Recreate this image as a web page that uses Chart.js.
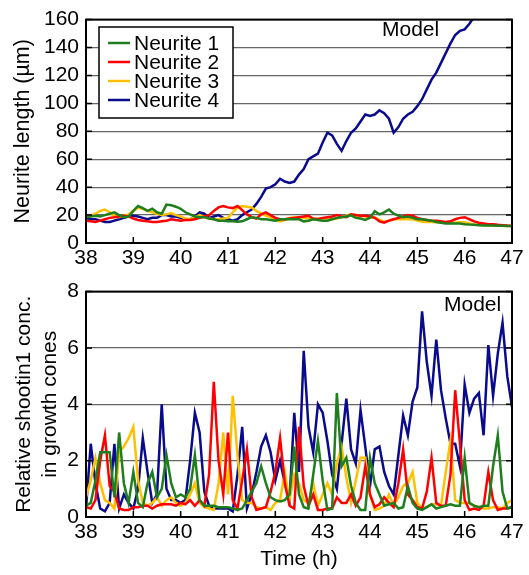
<!DOCTYPE html>
<html>
<head>
<meta charset="utf-8">
<script src="https://cdn.jsdelivr.net/npm/chart.js@4.4.1/dist/chart.umd.min.js"></script>
<style>
  html, body { margin: 0; padding: 0; background: #fff; }
  #wrap { position: relative; width: 529px; height: 575px; }
  #top { position: absolute; left: 0; top: 0; }
  #bot { position: absolute; left: 0; top: 272px; }
</style>
</head>
<body>
<div id="wrap">
  <div id="top" style="width:529px;height:272px"><canvas id="c1"></canvas></div>
  <div id="bot" style="width:529px;height:303px"><canvas id="c2"></canvas></div>
</div>
<script>
// Zeitachse: 38 h bis 47 h, alle 0.1 h
const times = Array.from({ length: 91 }, (_, i) => +(38 + i * 0.1).toFixed(1));
const hourTicks = [38, 39, 40, 41, 42, 43, 44, 45, 46, 47];
const labels = ['Neurite 1', 'Neurite 2', 'Neurite 3', 'Neurite 4'];
const colors = ['#1f7f1f', '#ff0000', '#ffc000', '#0a0a8c'];

// Neuritenlänge (µm)
const length1 = [
  18.5, 19, 19.5, 19, 20, 21, 22, 20, 18.5, 19,
  23, 26.5, 25, 23, 24.5, 22, 21, 27.5, 27, 26,
  24.5, 22, 20.5, 19, 18.5, 18.5, 17.5, 17, 16, 16,
  15.5, 15.5, 15.3, 15.5, 17, 18.5, 18, 17, 17, 16.5,
  16, 17, 17, 17, 17, 17, 15.5, 16, 17, 16.5,
  16, 16, 17, 18, 18.5, 19, 19.8, 18, 17.5, 16.5,
  18, 22.7, 20.5, 22, 24, 21, 19.6, 18.5, 19, 18,
  17, 17, 16.5, 16, 15, 14.5, 14, 14, 14, 14,
  13.5, 13.2, 13, 12.8, 12.6, 12.6, 12.5, 12.4, 12.3, 12.2,
  12.2];
const length2 = [
  16, 15.5, 15, 16, 17, 18, 18.5, 19, 19.5, 19,
  17.5, 16.5, 16, 15.5, 15, 15, 15.5, 16, 17, 16.5,
  16, 16.5, 16.5, 17, 18, 19, 20, 23, 25.5, 26.5,
  25.5, 25, 26.5, 23.5, 20.5, 18.5, 17.5, 20.5, 22, 20,
  18, 17, 17, 17.5, 18, 18.5, 19, 19.5, 17.5, 17,
  18, 18.5, 19, 20, 19, 18.5, 20.5, 20, 19.5, 19.5,
  19, 18, 15.5, 14.5, 16, 17, 18, 19, 20, 19.5,
  18, 17, 16.5, 16, 16, 15.5, 15, 15.5, 17, 18,
  18.5, 17, 15.5, 14.5, 14, 13.5, 13.5, 13, 12.8, 12.5,
  12.3];
const length3 = [
  18.5, 19.5, 21, 23, 24, 22, 19.5, 18.5, 19.5, 20.5,
  23, 25.3, 24.5, 23, 22, 21, 20, 20.5, 21.5, 20,
  19, 17.5, 17, 18.5, 20, 18.5, 17.5, 17, 17, 17.5,
  18, 22, 25.3, 26.5, 26, 25.5, 23, 21, 19.5, 18.5,
  16.5, 15.5, 16.5, 18, 18.5, 18.5, 18, 17.5, 17, 17.5,
  17.5, 17.5, 17, 17.5, 18.5, 19.5, 20.5, 19.5, 19.5, 19,
  18.5, 18.5, 16.5, 15.3, 16, 17, 17, 17, 17, 17,
  16, 15.3, 15, 15, 14.8, 14.8, 14.5, 14.5, 14.6, 14.8,
  14.8, 14, 13.3, 13, 13, 12.8, 12.6, 12.5, 12.3, 12.2,
  12];
const length4 = [
  18, 17, 17, 16, 15, 15, 16, 17, 18, 19,
  19.5, 19, 18, 17, 18, 18, 20, 20, 19, 19,
  18, 17, 17, 19, 22, 21, 18, 19, 20, 18,
  17, 16, 17, 20, 22, 24, 28, 33, 39, 40,
  42, 46, 44, 43, 44, 49, 53, 60, 62, 64,
  72, 79, 77, 71, 66, 73, 79, 82, 87, 92,
  91, 92, 95, 93, 89, 79, 83, 89, 92, 94,
  98, 103, 110, 117, 122, 129, 136, 143, 149, 152,
  153, 157, 162, 167, 172, 176, 181, 186, 191, 195,
  200];

// relative Shootin1-Konzentration
const conc1 = [
  0.4, 0.5, 1.3, 2.3, 2.3, 2.3, 0.7, 3.0, 1.2, 0.5,
  1.6, 0.5, 0.35, 1.2, 1.6, 0.7, 1.0, 2.2, 1.2, 0.7,
  0.8, 0.7, 1.0, 2.2, 0.6, 0.4, 0.4, 0.4, 0.35, 0.35,
  0.35, 0.3, 0.25, 0.3, 0.6, 0.9, 1.2, 1.8, 1.2, 0.7,
  0.6, 0.55, 0.6, 0.8, 2.5, 0.8, 0.35, 0.3, 1.5, 2.7,
  1.3, 0.25, 0.3, 4.4, 1.8, 2.1, 1.1, 0.5, 0.25, 0.25,
  2.1, 1.2, 0.8, 0.4, 0.45, 0.5, 0.3, 0.35, 1.1, 0.5,
  0.3, 0.25, 0.35, 0.45, 0.3, 0.35, 0.4, 0.45, 0.4, 0.4,
  2.1, 0.5, 0.4, 0.35, 0.4, 0.4, 1.8, 2.9, 0.9, 0.3,
  0.35];
const conc2 = [
  0.35, 0.3, 0.6, 2.0, 2.9, 1.1, 0.9, 0.3, 0.25, 0.25,
  0.35, 0.35, 0.4, 0.4, 0.3, 0.4, 0.45, 0.45, 0.45, 0.4,
  0.5, 0.45, 0.6, 0.4, 0.6, 0.4, 1.5, 4.8, 2.0, 0.8,
  3.0, 0.6, 0.3, 1.3, 2.4, 0.7, 0.25, 0.3, 0.35, 0.9,
  1.6, 2.8, 1.2, 0.4, 0.3, 3.2, 1.1, 0.4, 0.8, 0.25,
  0.25, 0.3, 0.3, 0.7, 0.5, 0.5, 0.8, 0.4, 0.7, 1.8,
  0.8, 0.35, 0.45, 0.7, 0.5, 0.35, 1.2, 2.4, 0.8, 0.6,
  0.35, 0.3, 0.9, 2.1, 0.5, 0.4, 0.4, 1.5, 4.5, 2.6,
  0.6, 0.25, 0.3, 0.25, 0.4, 1.6, 0.6, 0.25, 0.3, 0.3,
  0.35];
const conc3 = [
  0.7, 1.3, 2.1, 1.2, 0.6, 0.5, 0.3, 2.3, 2.5, 2.8,
  3.2, 1.3, 0.5, 0.4, 0.5, 0.7, 0.4, 0.6, 0.7, 0.5,
  0.4, 0.5, 0.8, 1.2, 0.5, 0.35, 0.3, 0.25, 1.2, 3.0,
  0.8, 4.3, 2.2, 0.6, 0.5, 0.5, 0.35, 0.3, 0.35, 0.25,
  0.5, 0.6, 1.6, 0.6, 1.5, 1.2, 0.6, 0.5, 1.2, 0.4,
  0.8, 1.2, 0.8, 1.9, 2.5, 1.4, 0.5, 1.3, 2.1, 2.1,
  0.8, 0.25, 0.3, 0.4, 0.8, 0.4, 0.7, 1.1, 1.2, 1.6,
  0.5, 0.3, 0.35, 0.45, 0.45, 0.4, 1.6, 2.7, 0.6, 0.5,
  0.5, 0.5, 0.4, 0.35, 0.3, 0.3, 0.35, 0.35, 0.3, 0.5,
  0.6];
const conc4 = [
  0.3, 2.6, 1.2, 0.3, 0.2, 0.5, 2.6, 0.3, 0.8, 0.5,
  0.3, 1.0, 2.8, 1.6, 0.5, 0.8, 4.0, 1.0, 0.6, 0.6,
  0.5, 0.6, 2.0, 3.7, 3.0, 0.9, 0.4, 0.3, 0.3, 0.3,
  0.3, 0.2, 1.5, 3.2, 0.3, 0.8, 1.6, 2.5, 2.9, 2.3,
  1.3, 2.0, 1.2, 0.6, 3.7, 1.6, 5.9, 3.2, 2.3, 4.0,
  3.7, 2.7, 1.5, 1.0, 2.6, 4.2, 2.4, 1.9, 3.8, 2.5,
  1.1, 2.4, 2.5, 1.6, 1.1, 0.8, 2.2, 3.6, 2.9, 4.1,
  4.6, 7.3, 5.5, 4.3, 6.3, 4.5, 3.5, 2.6, 2.6, 1.8,
  4.7, 3.7, 4.2, 4.4, 2.9, 6.1, 4.3, 5.8, 6.9, 5.0,
  3.9];

const FONT = "'Liberation Sans', Arial, sans-serif";

function makeDatasets(series) {
  return series.map((vals, i) => ({
    label: labels[i],
    data: vals.map((v, j) => ({ x: times[j], y: v })),
    borderColor: colors[i],
    backgroundColor: colors[i],
    borderWidth: 2.5,
    pointRadius: 0,
    tension: 0,
    fill: false
  }));
}

// Rahmen, Innen-Ticks, Legende und "Model"-Text
const framePlugin = {
  id: 'frame',
  afterDraw(chart, args, opts) {
    const { ctx, chartArea: a, scales } = chart;
    ctx.save();
    ctx.strokeStyle = '#000';
    ctx.lineWidth = 1.5;
    ctx.beginPath();
    hourTicks.slice(1, -1).forEach(h => {
      const x = scales.x.getPixelForValue(h);
      ctx.moveTo(x, a.bottom);
      ctx.lineTo(x, a.bottom - 6);
    });
    scales.y.ticks.forEach(t => {
      const y = scales.y.getPixelForValue(t.value);
      ctx.moveTo(a.left, y); ctx.lineTo(a.left + 6, y);
      ctx.moveTo(a.right, y); ctx.lineTo(a.right - 6, y);
    });
    ctx.stroke();
    ctx.lineWidth = 2;
    ctx.strokeRect(a.left, a.top, a.right - a.left, a.bottom - a.top);

    ctx.fillStyle = '#000';
    ctx.font = '21px ' + FONT;
    ctx.textBaseline = 'middle';
    ctx.textAlign = 'left';
    ctx.fillText('Model', opts.modelX, opts.modelY);

    if (opts.legend) {
      const lx = 99, ly = 27, lw = 134, lh = 91;
      ctx.fillStyle = '#fff';
      ctx.fillRect(lx, ly, lw, lh);
      ctx.lineWidth = 1.5;
      ctx.strokeStyle = '#000';
      ctx.strokeRect(lx, ly, lw, lh);
      chart.data.datasets.forEach((ds, i) => {
        const y = 43 + i * 19;
        ctx.strokeStyle = ds.borderColor;
        ctx.lineWidth = 2.5;
        ctx.beginPath();
        ctx.moveTo(108, y);
        ctx.lineTo(130, y);
        ctx.stroke();
        ctx.fillStyle = '#000';
        ctx.fillText(ds.label, 134, y + 1);
      });
    }
    ctx.restore();
  }
};

function baseOptions(yMax, yStep, yTitle, titleSize, titleLineHeight, titlePad, xHeight, topPad, withXTitle, pluginOpts) {
  return {
    responsive: true,
    maintainAspectRatio: false,
    animation: false,
    layout: { padding: { top: topPad, right: 17, left: 0, bottom: 0 } },
    plugins: {
      legend: { display: false },
      tooltip: { enabled: false },
      frame: pluginOpts
    },
    scales: {
      x: {
        type: 'linear',
        min: 38,
        max: 47,
        afterBuildTicks: s => { s.ticks = hourTicks.map(v => ({ value: v })); },
        grid: { display: false, drawTicks: false },
        border: { display: false },
        ticks: { color: '#000', padding: 3, font: { family: FONT, size: 21 }, maxRotation: 0, autoSkip: false },
        title: {
          display: withXTitle,
          text: 'Time (h)',
          color: '#000',
          font: { family: FONT, size: 21 },
          padding: { top: 3, bottom: 3 }
        },
        afterFit: s => { s.height = xHeight; }
      },
      y: {
        min: 0,
        max: yMax,
        ticks: { stepSize: yStep, autoSkip: false, color: '#000', padding: 7, font: { family: FONT, size: 21 } },
        grid: { color: '#666', lineWidth: 1.2, drawTicks: false },
        border: { display: false },
        title: {
          display: true,
          text: yTitle,
          color: '#000',
          font: { family: FONT, size: titleSize, lineHeight: titleLineHeight },
          padding: { top: titlePad, bottom: 0 }
        },
        afterFit: s => { s.width = 86; }
      }
    }
  };
}

new Chart(document.getElementById('c1'), {
  type: 'line',
  data: { datasets: makeDatasets([length1, length2, length3, length4]) },
  options: baseOptions(160, 20, 'Neurite length (\u00b5m)', 21.5, 1.2, 10, 29, 14, false,
    { legend: true, modelX: 382, modelY: 30 }),
  plugins: [framePlugin]
});

new Chart(document.getElementById('c2'), {
  type: 'line',
  data: { datasets: makeDatasets([conc1, conc2, conc3, conc4]) },
  options: baseOptions(8, 2, ['Relative shootin1 conc.', 'in growth cones'], 21, 1.2, 12, 58, 18, true,
    { legend: false, modelX: 444, modelY: 33 }),
  plugins: [framePlugin]
});
</script>
</body>
</html>
